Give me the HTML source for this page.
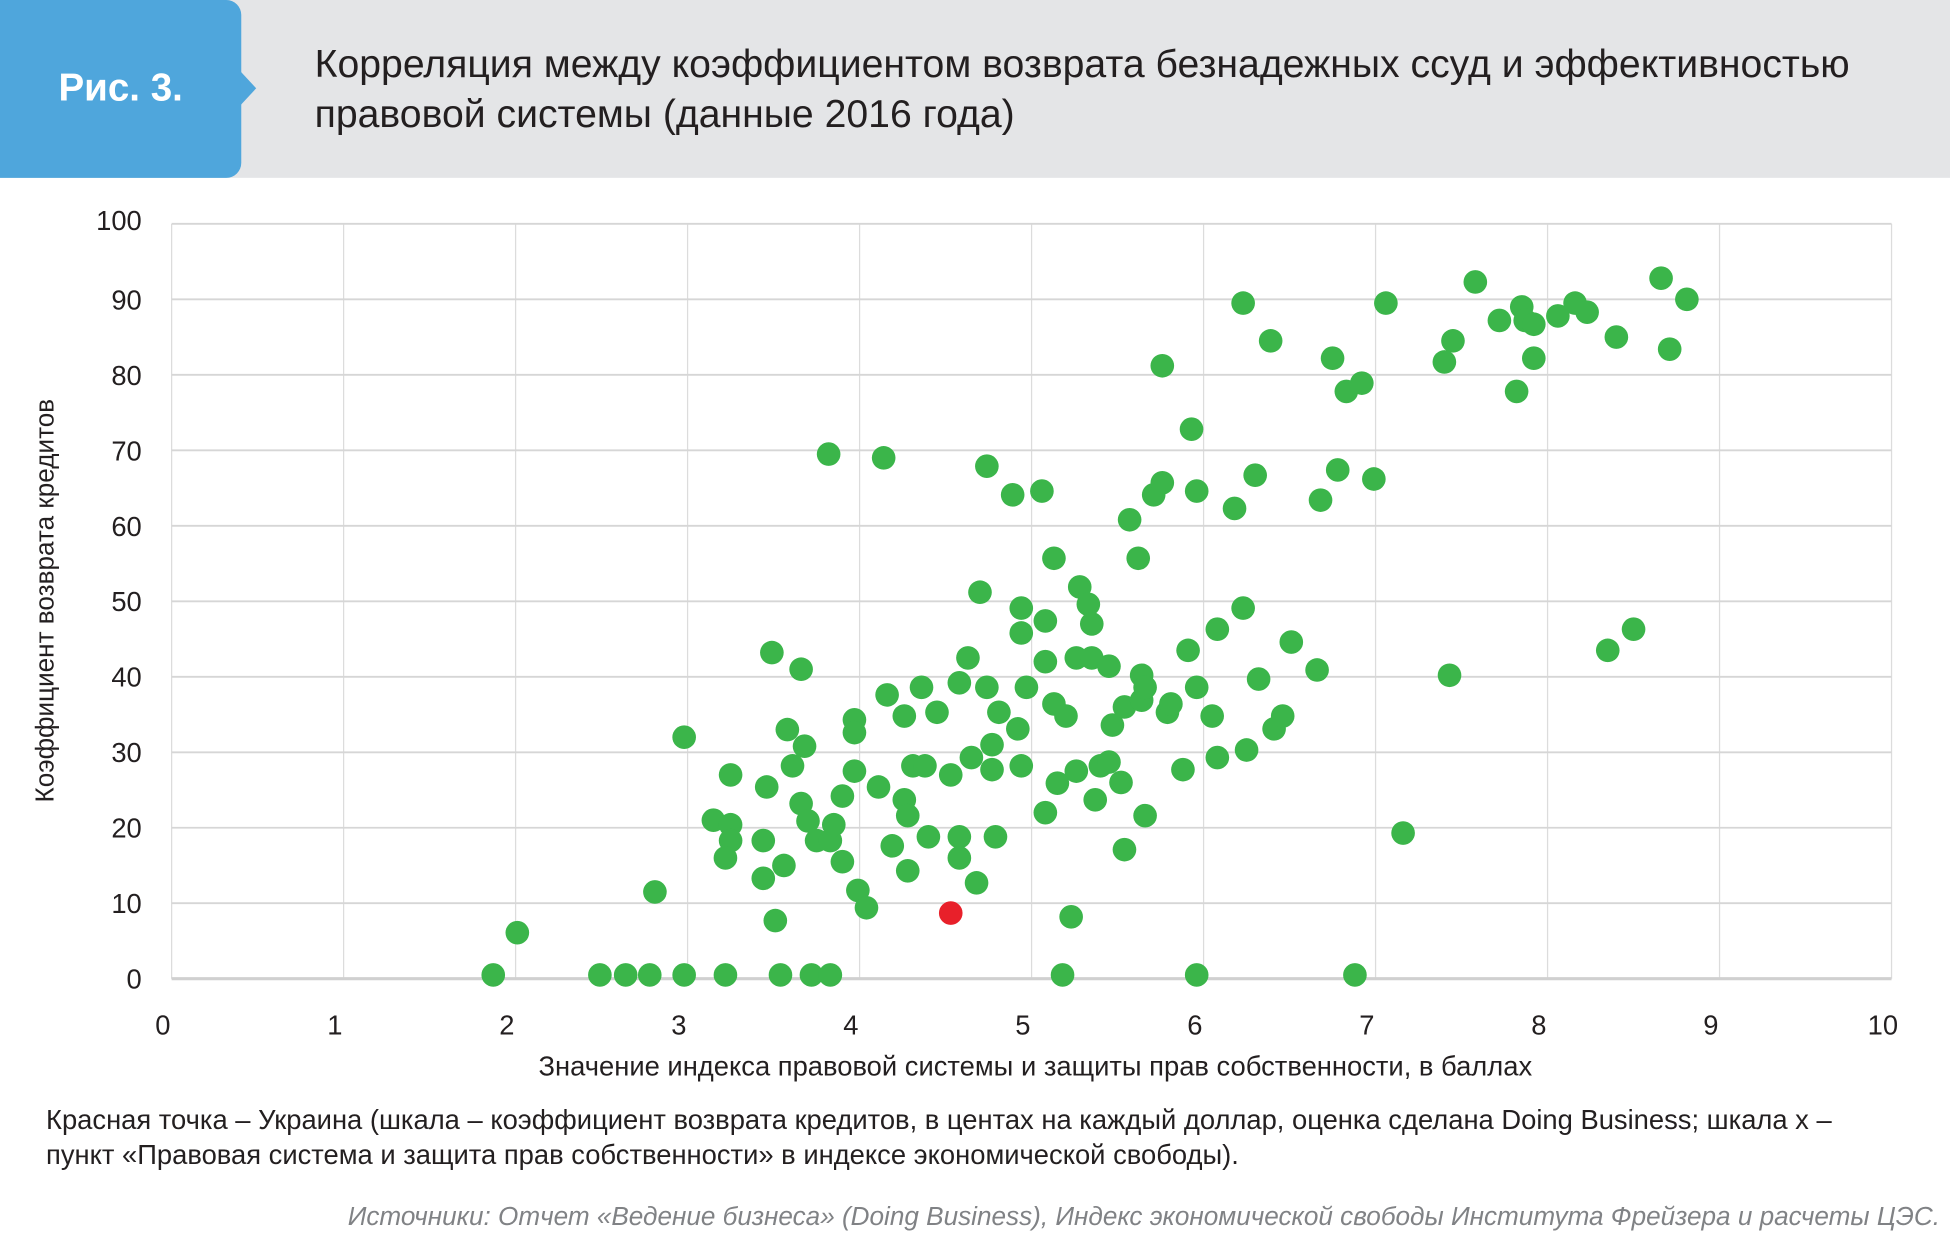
<!DOCTYPE html>
<html><head><meta charset="utf-8">
<style>
html,body{margin:0;padding:0;background:#fff;width:1950px;height:1242px;overflow:hidden;}
#wrap{position:absolute;left:0;top:0;width:1568px;height:999px;transform:scale(1.24362);transform-origin:0 0;font-family:"Liberation Sans","DejaVu Sans",sans-serif;}
.t{position:absolute;white-space:nowrap;}
</style></head><body>
<div id="wrap">
<div style="position:absolute;left:0;top:0;width:1568px;height:143px;background:#e4e5e7;"></div>
<div style="position:absolute;left:0;top:0;width:194px;height:143px;background:#4fa6dc;border-radius:0 12px 12px 0;"></div>
<div style="position:absolute;left:193px;top:57px;width:0;height:0;border-top:14px solid transparent;border-bottom:14px solid transparent;border-left:13px solid #4fa6dc;"></div>
<div class="t" style="left:47px;top:53px;font-size:31px;font-weight:bold;color:#fff;">Рис. 3.</div>
<div class="t" style="left:253px;top:31px;font-size:31.5px;line-height:40px;color:#231f20;">Корреляция между коэффициентом возврата безнадежных ссуд и эффективностью<br>правовой системы (данные 2016 года)</div>
<svg id="chart" width="1568" height="999" style="position:absolute;left:0;top:0;" font-family="Liberation Sans, DejaVu Sans, sans-serif"></svg>
<div class="t" style="left:433px;top:845px;font-size:22px;color:#231f20;">Значение индекса правовой системы и защиты прав собственности, в баллах</div>
<div class="t" style="left:37px;top:887px;font-size:22px;line-height:28px;color:#231f20;">Красная точка – Украина (шкала – коэффициент возврата кредитов, в центах на каждый доллар, оценка сделана Doing Business; шкала x –<br>пункт «Правовая система и защита прав собственности» в индексе экономической свободы).</div>
<div class="t" style="right:8px;top:967px;font-size:21px;font-style:italic;color:#808285;">Источники: Отчет «Ведение бизнеса» (Doing Business), Индекс экономической свободы Института Фрейзера и расчеты ЦЭС.</div>
</div>
<script>
const xTicks=[0,1,2,3,4,5,6,7,8,9,10];
const yTicks=[0,10,20,30,40,50,60,70,80,90,100];
const xValues=[1.87,2.49,2.64,2.78,2.98,3.22,3.54,3.72,3.83,5.18,5.96,6.88,
2.01,2.81,2.98,3.15,3.25,3.25,3.22,3.25,3.44,3.44,3.46,3.49,3.51,3.56,3.58,3.61,3.66,3.68,3.66,3.70,3.75,3.83,3.85,3.90,3.90,3.82,3.97,3.97,3.97,3.99,4.04,4.11,4.16,4.14,4.19,4.26,4.26,4.28,4.28,4.31,4.36,4.38,4.40,4.45,4.53,4.53,4.58,4.58,4.58,4.63,4.65,4.68,4.70,4.74,4.74,4.77,4.77,4.79,4.81,4.89,4.92,4.94,4.94,4.94,4.97,5.06,5.08,5.08,5.08,5.13,5.13,5.15,5.20,5.23,5.26,5.26,5.28,5.33,5.35,5.35,5.37,5.40,5.45,5.45,5.47,5.52,5.54,5.54,5.57,5.62,5.64,5.64,5.66,5.66,5.71,5.76,5.76,5.79,5.81,5.88,5.91,5.93,5.96,5.96,6.05,6.08,6.08,6.18,6.23,6.23,6.25,6.30,6.32,6.39,6.41,6.46,6.51,6.66,6.68,6.75,6.78,6.83,6.92,6.99,7.06,7.16,7.40,7.43,7.45,7.58,7.72,7.82,7.85,7.87,7.92,7.92,8.06,8.16,8.23,8.35,8.40,8.50,8.66,8.71,8.81];
const yValues=[0.5,0.5,0.5,0.5,0.5,0.5,0.5,0.5,0.5,0.5,0.5,0.5,
6.1,11.5,32,21,20.4,18.3,16,27,18.3,13.3,25.4,43.2,7.7,15,33,28.2,41,30.8,23.2,20.9,18.3,18.3,20.4,15.5,24.2,69.5,34.3,32.6,27.5,11.7,9.4,25.4,37.6,69,17.6,34.8,23.7,21.6,14.3,28.2,38.6,28.2,18.8,35.3,27,8.7,39.2,18.8,16,42.5,29.3,12.7,51.2,67.9,38.6,31,27.7,18.8,35.3,64.1,33.1,49.1,45.8,28.2,38.6,64.6,47.4,42,22,55.7,36.4,25.9,34.8,8.2,42.5,27.5,51.9,49.6,47,42.5,23.7,28.2,41.4,28.7,33.6,26,17.1,36,60.8,55.7,40.2,36.9,38.6,21.6,64.1,65.7,81.2,35.3,36.4,27.7,43.5,72.8,64.6,38.6,34.8,46.3,29.3,62.3,89.5,49.1,30.3,66.7,39.7,84.5,33.1,34.8,44.6,40.9,63.4,82.2,67.4,77.8,78.9,66.2,89.5,19.3,81.7,40.2,84.5,92.3,87.2,77.8,89,87.2,86.7,82.2,87.8,89.5,88.3,43.5,85,46.3,92.8,83.4,90];
const ukraineIndex=57;
const NS='http://www.w3.org/2000/svg';
const svg=document.getElementById('chart');
const L=138,R=1521,T=180,B=787;
const xs=v=>L+(v-0)/(10-0)*(R-L);
const ys=v=>B-(v-0)/(100-0)*(B-T);
function mk(tag,attrs){const e=document.createElementNS(NS,tag);for(const k in attrs)e.setAttribute(k,attrs[k]);svg.appendChild(e);return e;}
xTicks.forEach(v=>{
 const g=mk('line',{x1:xs(v),x2:xs(v),y1:T,y2:B,stroke:'#dcdcdc','stroke-width':1});
 
 
 const t=mk('text',{x:xs(v)-7,y:832,'text-anchor':'middle','font-size':22,fill:'#231f20'});
 t.textContent=v;
 
 
});
yTicks.forEach(v=>{
 const g=mk('line',{x1:L,x2:R,y1:ys(v),y2:ys(v),stroke:v===0?'#d0d0d0':'#d6d6d6','stroke-width':v===0?2.5:1.5});
 
 
 const t=mk('text',{x:114,y:ys(v)+8-(v===100?3:0),'text-anchor':'end','font-size':22,fill:'#231f20'});
 t.textContent=v;
 
 
});
const yt=mk('text',{x:0,y:0,'text-anchor':'middle','font-size':21,fill:'#231f20',transform:'translate(43,483) rotate(-90)'});
yt.textContent='Коэффициент возврата кредитов';


xValues.forEach((x,i)=>{
 if(i===ukraineIndex)return;
 const c=mk('circle',{cx:xs(x),cy:ys(yValues[i]),r:9.5,fill:'#3bb54a'});
 
 
});
const u=mk('circle',{cx:xs(xValues[ukraineIndex]),cy:ys(yValues[ukraineIndex]),r:9.5,fill:'#e8202a'});


</script>
</body></html>
